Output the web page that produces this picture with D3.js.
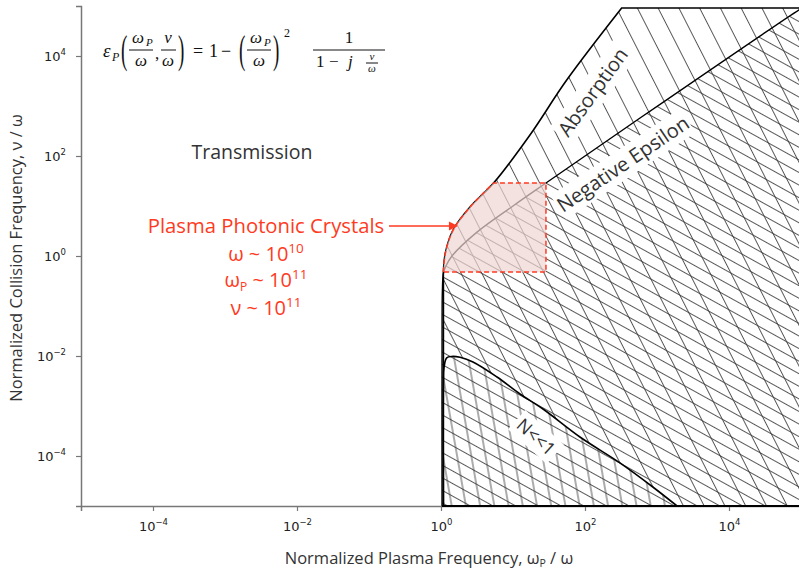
<!DOCTYPE html>
<html>
<head>
<meta charset="utf-8">
<script src="https://cdn.jsdelivr.net/npm/d3@7"></script>
<style>
  body { margin: 0; background: #fff; }
  svg { display: block; }
</style>
</head>
<body>
<script>
// values (x = wp/w, y = nu/w)
var xTicks = [1e-4, 1e-2, 1e0, 1e2, 1e4];
var yTicks = [1e-4, 1e-2, 1e0, 1e2, 1e4];
var tickExp = ["\u22124", "\u22122", "0", "2", "4"];

// outer edge of the absorption region, bottom to top
var absorptionEdge = [[1.08, 1e-5], [1.08, 0.3], [1.08, 0.48], [1.15, 1.15], [1.47, 3.3],
  [2.53, 9.5], [5.4, 29], [17.2, 263], [55.7, 3300], [323, 9.1e4]];
var topNu = 9.1e4;
// Re(eps) = 0 edge, top right to bottom
var epsilonEdge = [[1e5, 8.8e4], [9.3e4, 8.3e4], [581, 575], [28.7, 28.8], [10, 10], [3.16, 3.0],
  [1.42, 1.0], [1.17, 0.63], [1.08, 0.45], [1.045, 0.2], [1.035, 0.05], [1.033, 1e-5]];
// N<<1 edge, left to right
var lowIndexEdge = [[1.08, 1e-5], [1.08, 0.003], [1.1, 0.0058], [1.2, 0.0092], [1.42, 0.0098],
  [1.84, 0.0094], [2.78, 0.0076], [6.0, 0.0038], [12.5, 0.00174], [26.1, 0.00087],
  [85, 0.00024], [309, 7.2e-5], [875, 2.4e-5], [1900, 1e-5]];
// plasma photonic crystal box
var crystalNu = [0.48, 29];
var crystalWp = 28.7;
var arrowTip = [1.72, 4.0];

var W = 799, H = 572;
var red = "#ff3a22";

var svg = d3.select("body").append("svg")
  .attr("width", W)
  .attr("height", H);

var x = d3.scaleLog().domain([1e-5, 1e5]).range([81, 801]);
var y = d3.scaleLog().domain([1e-5, 1e5]).range([506, 6]);

var defs = svg.append("defs");
defs.append("clipPath").attr("id", "plot")
  .append("rect").attr("x", 81).attr("y", 6).attr("width", 718).attr("height", 500);

// line hatches
function hatch(id, angle, gap) {
  var p = defs.append("pattern")
    .attr("id", id)
    .attr("patternUnits", "userSpaceOnUse")
    .attr("width", 20)
    .attr("height", gap)
    .attr("patternTransform", "rotate(" + angle + ")");
  p.append("line")
    .attr("x1", 0).attr("x2", 20)
    .attr("y1", gap / 2).attr("y2", gap / 2)
    .attr("stroke", "#3a3a3a")
    .attr("stroke-width", 0.85);
}
hatch("steep", 63, 18.5);
hatch("shallow", 29, 11);
hatch("vsteep", 80, 14);

var curve = d3.line()
  .x(function(d){ return x(d[0]); })
  .y(function(d){ return y(d[1]); })
  .curve(d3.curveCatmullRom.alpha(0.5));

function pt(d){ return "L" + x(d[0]) + "," + y(d[1]); }

var plot = svg.append("g").attr("clip-path", "url(#plot)");

// whole hatched area
plot.append("path")
  .attr("d", curve(absorptionEdge) + pt([1e5, topNu]) + pt([1e5, 1e-5]) + "Z")
  .attr("fill", "url(#steep)");

// negative epsilon: second hatch
plot.append("path")
  .attr("d", curve(epsilonEdge) + pt([1e5, 1e-5]) + "Z")
  .attr("fill", "url(#shallow)");

// N<<1 region
var nPath = curve(lowIndexEdge) + "Z";
plot.append("path").attr("d", nPath).attr("fill", "#fff");
plot.append("path").attr("d", nPath).attr("fill", "url(#shallow)");
plot.append("path").attr("d", nPath).attr("fill", "url(#vsteep)");

// edges
plot.append("path")
  .attr("d", curve(absorptionEdge) + pt([1e5, topNu]))
  .attr("fill", "none").attr("stroke", "#000").attr("stroke-width", 1.6);
plot.append("path")
  .attr("d", curve(epsilonEdge))
  .attr("fill", "none").attr("stroke", "#000").attr("stroke-width", 1.4);
plot.append("path")
  .attr("d", curve(lowIndexEdge))
  .attr("fill", "none").attr("stroke", "#000").attr("stroke-width", 1.6);

// crystal box
var inBox = absorptionEdge.filter(function(d){ return d[1] >= crystalNu[0] && d[1] <= crystalNu[1]; });
plot.append("path")
  .attr("d", curve(inBox) + pt([crystalWp, crystalNu[1]]) + pt([crystalWp, crystalNu[0]]) + "Z")
  .attr("fill", "#f0d6d4")
  .attr("fill-opacity", 0.7)
  .attr("stroke", red)
  .attr("stroke-width", 1.5)
  .attr("stroke-dasharray", "5,3");

// region labels with white boxes
function regionLabel(cx, cy, angle, txt, size, w) {
  var g = svg.append("g").attr("transform", "translate(" + cx + "," + cy + ") rotate(" + angle + ")");
  g.append("rect")
    .attr("x", -w / 2).attr("y", -size * 0.72)
    .attr("width", w).attr("height", size * 1.44)
    .attr("fill", "#fff");
  g.append("text")
    .attr("text-anchor", "middle")
    .attr("dy", size * 0.35)
    .attr("font-family", "'Open Sans', sans-serif")
    .attr("font-size", size)
    .attr("fill", "#333")
    .text(txt);
}
regionLabel(593, 92, -54, "Absorption", 20, 108);
regionLabel(623, 164, -34, "Negative Epsilon", 20, 156);
regionLabel(536, 437, 42, "N<<1", 18, 52);

// axes
var xAxis = svg.append("g")
  .attr("transform", "translate(0,506)")
  .call(d3.axisBottom(x).tickValues(xTicks).tickSize(5).tickPadding(11));
var yAxis = svg.append("g")
  .attr("transform", "translate(81,0)")
  .call(d3.axisLeft(y).tickValues(yTicks).tickSize(5).tickPadding(10));

[xAxis, yAxis].forEach(function(ax){
  ax.select(".domain").attr("stroke", "#777").attr("stroke-width", 1.5);
  ax.selectAll(".tick line").attr("stroke", "#777").attr("stroke-width", 1.2);
  ax.selectAll(".tick text")
    .attr("font-family", "'DejaVu Sans', sans-serif")
    .attr("font-size", 13)
    .attr("fill", "#222")
    .each(function(d, i){
      var t = d3.select(this).text("");
      t.append("tspan").text("10");
      t.append("tspan").attr("dy", -6).attr("font-size", 8.5).text(tickExp[i]);
    });
});
// region bottom edge
svg.append("line")
  .attr("x1", x(1.03)).attr("x2", 799)
  .attr("y1", 506).attr("y2", 506)
  .attr("stroke", "#000").attr("stroke-width", 2);

// axis titles
svg.append("text")
  .attr("x", 429).attr("y", 564)
  .attr("text-anchor", "middle")
  .attr("font-family", "'Open Sans', sans-serif")
  .attr("font-size", 16.5)
  .attr("fill", "#333")
  .call(function(t){
    t.append("tspan").text("Normalized Plasma Frequency, \u03c9");
    t.append("tspan").attr("dy", 3).attr("font-size", 10.5).text("P");
    t.append("tspan").attr("dy", -3).text(" / \u03c9");
  });
svg.append("text")
  .attr("transform", "translate(22,258) rotate(-90)")
  .attr("text-anchor", "middle")
  .attr("font-family", "'Open Sans', sans-serif")
  .attr("font-size", 16.5)
  .attr("fill", "#333")
  .text("Normalized Collision Frequency, \u03bd / \u03c9");

svg.append("text")
  .attr("x", 252).attr("y", 159)
  .attr("text-anchor", "middle")
  .attr("font-family", "'Open Sans', sans-serif")
  .attr("font-size", 19.5)
  .attr("fill", "#333")
  .text("Transmission");

// plasma photonic crystal annotation
var ann = svg.append("g")
  .attr("font-family", "'Open Sans', sans-serif")
  .attr("fill", red)
  .attr("text-anchor", "middle");
ann.append("text").attr("x", 266).attr("y", 233).attr("font-size", 20.3).text("Plasma Photonic Crystals");
ann.append("text").attr("x", 266).attr("y", 261).attr("font-size", 20)
  .call(function(t){
    t.append("tspan").text("\u03c9  ~ 10");
    t.append("tspan").attr("dy", -8).attr("font-size", 13.5).text("10");
  });
ann.append("text").attr("x", 266).attr("y", 287).attr("font-size", 20)
  .call(function(t){
    t.append("tspan").text("\u03c9");
    t.append("tspan").attr("dy", 4).attr("font-size", 12).text("P");
    t.append("tspan").attr("dy", -4).text(" ~ 10");
    t.append("tspan").attr("dy", -8).attr("font-size", 13.5).text("11");
  });
ann.append("text").attr("x", 266).attr("y", 315).attr("font-size", 20)
  .call(function(t){
    t.append("tspan").text("\u03bd ~  10");
    t.append("tspan").attr("dy", -8).attr("font-size", 13.5).text("11");
  });
svg.append("line")
  .attr("x1", 389).attr("x2", x(arrowTip[0]) - 6)
  .attr("y1", y(arrowTip[1])).attr("y2", y(arrowTip[1]))
  .attr("stroke", red).attr("stroke-width", 1.5);
svg.append("path")
  .attr("d", "M" + x(arrowTip[0]) + "," + y(arrowTip[1]) + "l-9,-4.5l0,9Z")
  .attr("fill", red);

// equation
var eq = svg.append("g")
  .attr("font-family", "'Liberation Serif', serif")
  .attr("fill", "#111");
function t(xx, yy, s, size, it, anchor) {
  return eq.append("text")
    .attr("x", xx).attr("y", yy)
    .attr("font-size", size)
    .attr("font-style", it ? "italic" : "normal")
    .attr("text-anchor", anchor || "start")
    .text(s);
}
function paren(xx, s) {
  eq.append("text")
    .attr("transform", "translate(" + xx + ",63) scale(1,2.1)")
    .attr("font-size", 19)
    .text(s);
}
function bar(x1, x2, yy) {
  eq.append("line").attr("x1", x1).attr("x2", x2).attr("y1", yy).attr("y2", yy)
    .attr("stroke", "#111").attr("stroke-width", 1);
}
function fracW(cx) {
  // omega_P over omega
  t(cx - 3, 43, "\u03c9", 17, true, "middle");
  t(cx + 5, 46, "P", 11, true, "start");
  bar(cx - 12, cx + 12, 50);
  t(cx, 66, "\u03c9", 17, true, "middle");
}
t(103, 57, "\u03b5", 19, true);
t(112, 61, "P", 12, true);
paren(121, "(");
fracW(141);
t(155, 59, ",", 17, false);
t(168, 43, "\u03bd", 17, true, "middle");
bar(161, 176, 50);
t(168, 66, "\u03c9", 17, true, "middle");
paren(178, ")");
t(193, 57, "=", 18, false);
t(209, 57, "1", 18, false);
t(221, 57, "\u2212", 18, false);
paren(239, "(");
fracW(259);
paren(273, ")");
t(284, 37, "2", 12, false);
t(349, 43, "1", 17, false, "middle");
bar(313, 385, 50);
t(316, 67, "1", 17, false);
t(329, 67, "\u2212", 17, false);
t(348, 67, "j", 17, true);
t(372, 60, "\u03bd", 11, true, "middle");
bar(366, 378, 63);
t(372, 72, "\u03c9", 11, true, "middle");
</script>
</body>
</html>
